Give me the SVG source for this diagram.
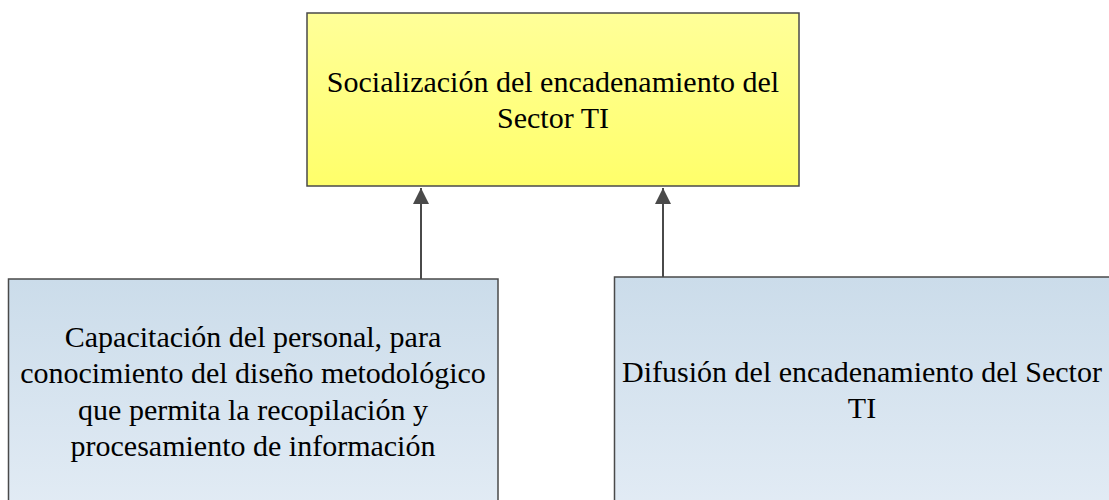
<svg xmlns="http://www.w3.org/2000/svg" width="1109" height="500" viewBox="0 0 1109 500">
<style>
.box{stroke:#4a4a4a;stroke-width:1.5}
.t{font-family:"Liberation Serif","Times New Roman",serif;font-size:30px;fill:#000;text-anchor:middle}
.c{stroke:#4a4a4a;stroke-width:2;fill:none}
</style>
<defs>
<linearGradient id="gy" x1="0" y1="0" x2="0" y2="1">
<stop offset="0" stop-color="#ffff99"/>
<stop offset="1" stop-color="#ffff6a"/>
</linearGradient>
<linearGradient id="gb" x1="0" y1="0" x2="0" y2="1">
<stop offset="0" stop-color="#cbdcea"/>
<stop offset="1" stop-color="#e3ecf5"/>
</linearGradient>
<marker id="arr" viewBox="0 0 16 18" markerWidth="16" markerHeight="18" refX="16" refY="9" orient="auto" markerUnits="userSpaceOnUse">
<path d="M0,1 L16,9 L0,17 Z" fill="#4a4a4a"/>
</marker>
</defs>
<g id="connectors">
<line class="c" x1="421" y1="279" x2="421" y2="188" marker-end="url(#arr)"/>
<line class="c" x1="663" y1="277" x2="663" y2="188" marker-end="url(#arr)"/>
</g>
<g id="node-top">
<rect class="box" x="307" y="13" width="492" height="173" fill="url(#gy)"/>
<text class="t" x="553" y="92">Socialización del encadenamiento del</text>
<text class="t" x="553" y="128">Sector TI</text>
</g>
<g id="node-left">
<rect class="box" x="8.5" y="279" width="489.5" height="240" fill="url(#gb)"/>
<text class="t" x="253" y="347">Capacitación del personal, para</text>
<text class="t" x="253" y="383">conocimiento del diseño metodológico</text>
<text class="t" x="253" y="420">que permita la recopilación y</text>
<text class="t" x="253" y="456">procesamiento de información</text>
</g>
<g id="node-right">
<rect class="box" x="614.5" y="277" width="500" height="240" fill="url(#gb)"/>
<text class="t" x="862" y="382">Difusión del encadenamiento del Sector</text>
<text class="t" x="862" y="418">TI</text>
</g>
</svg>
